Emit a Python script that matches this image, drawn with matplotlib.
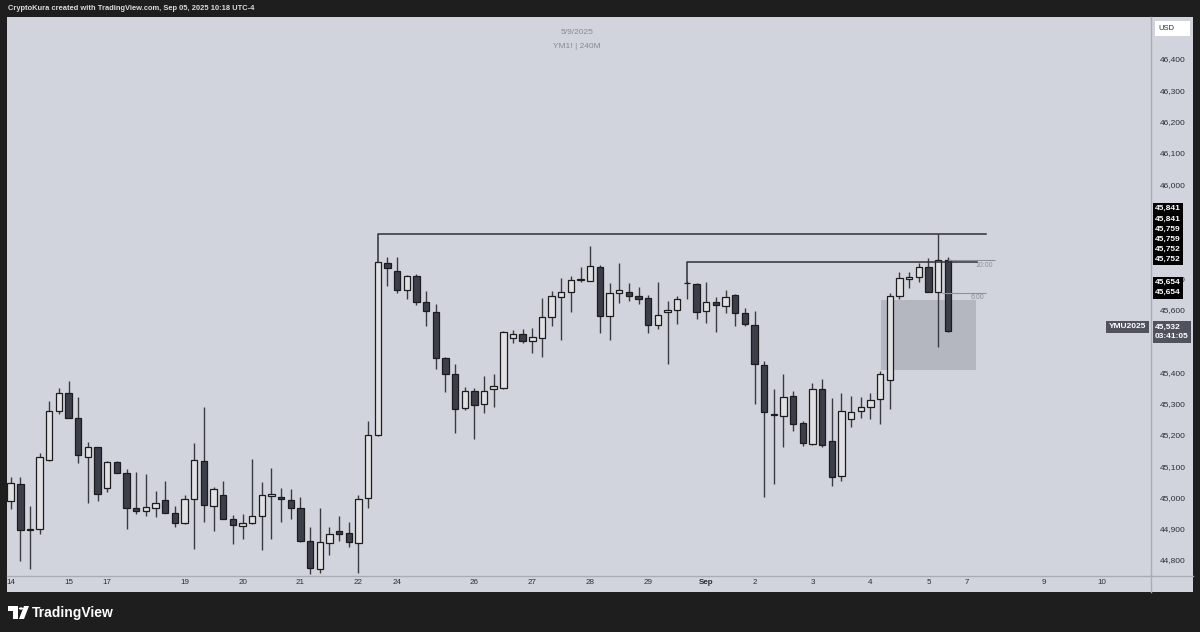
import numpy as np
import matplotlib.pyplot as plt
from matplotlib import transforms
from matplotlib.lines import Line2D
from matplotlib.patches import Rectangle, Polygon, Circle

# 240M candles, YM1!
opens = [44989, 45042, 44898, 44899, 45118, 45276, 45332, 45253, 45128, 45160,
         45029, 45113, 45077, 44966, 44956, 44966, 44992, 44949, 44917, 44996,
         45116, 44972, 45007, 44932, 44910, 44917, 44941, 45004, 45002, 44992,
         44967, 44861, 44771, 44853, 44893, 44887, 44853, 44997, 45199, 45750,
         45723, 45662, 45708, 45625, 45593, 45446, 45393, 45285, 45341, 45298,
         45347, 45348, 45509, 45522, 45498, 45510, 45577, 45639, 45656, 45695,
         45692, 45737, 45580, 45652, 45656, 45643, 45636, 45551, 45592, 45598,
         45686, 45681, 45594, 45623, 45611, 45647, 45588, 45550, 45422, 45265,
         45261, 45323, 45237, 45170, 45347, 45179, 45069, 45249, 45276, 45288,
         45315, 45376, 45643, 45697, 45705, 45735, 45655, 45759]
highs = [45064, 45064, 44972, 45143, 45308, 45348, 45373, 45320, 45177, 45162,
         45117, 45115, 45090, 45080, 45075, 45021, 45053, 44972, 45009, 45173,
         45290, 45032, 45053, 44943, 44947, 45122, 45049, 45093, 45029, 45027,
         45002, 44906, 44967, 44906, 44941, 44922, 45008, 45244, 45752, 45769,
         45767, 45710, 45712, 45660, 45617, 45448, 45425, 45352, 45348, 45388,
         45394, 45531, 45535, 45537, 45540, 45638, 45659, 45700, 45707, 45735,
         45804, 45742, 45686, 45748, 45684, 45671, 45646, 45689, 45627, 45644,
         45690, 45684, 45688, 45639, 45662, 45650, 45606, 45595, 45435, 45346,
         45395, 45340, 45245, 45365, 45377, 45318, 45332, 45323, 45322, 45332,
         45404, 45652, 45721, 45719, 45750, 45766, 45841, 45767]
lows = [44962, 44798, 44771, 44882, 45116, 45265, 45252, 45111, 44983, 44989,
        45018, 45077, 44898, 44947, 44941, 44938, 44949, 44906, 44915, 44834,
        44922, 44894, 44930, 44851, 44868, 44915, 44832, 44868, 44922, 44930,
        44859, 44755, 44757, 44816, 44861, 44842, 44757, 44965, 45197, 45675,
        45654, 45634, 45614, 45548, 45410, 45337, 45205, 45279, 45185, 45268,
        45290, 45345, 45494, 45492, 45462, 45449, 45547, 45503, 45591, 45689,
        45690, 45526, 45503, 45622, 45627, 45618, 45524, 45539, 45425, 45553,
        45632, 45571, 45558, 45529, 45590, 45547, 45547, 45297, 45002, 45042,
        45161, 45213, 45165, 45168, 45160, 45037, 45052, 45225, 45254, 45250,
        45235, 45281, 45634, 45668, 45689, 45655, 45481, 45527]
closes = [45045, 44896, 44896, 45130, 45276, 45332, 45254, 45134, 45160, 45011,
          45113, 45079, 44965, 44956, 44969, 44983, 44951, 44917, 44996, 45119,
          44975, 45026, 44932, 44912, 44917, 44941, 45007, 45011, 44994, 44965,
          44861, 44773, 44857, 44882, 44882, 44858, 44994, 45199, 45752, 45732,
          45662, 45708, 45625, 45595, 45446, 45393, 45282, 45339, 45295, 45341,
          45356, 45528, 45522, 45499, 45511, 45577, 45643, 45657, 45694, 45697,
          45739, 45580, 45654, 45662, 45642, 45632, 45551, 45582, 45598, 45634,
          45684, 45592, 45625, 45613, 45641, 45588, 45554, 45425, 45274, 45263,
          45320, 45234, 45173, 45347, 45167, 45066, 45276, 45274, 45290, 45312,
          45393, 45644, 45700, 45705, 45735, 45657, 45759, 45532]

day_pos = [0, 6, 10, 18, 24, 30, 36, 40, 48, 54, 60, 66, 72, 77, 83, 89, 95, 99, 107, 113]
day_labels = ['14', '15', '17', '19', '20', '21', '22', '24', '26', '27', '28', '29',
              'Sep', '2', '3', '4', '5', '7', '9', '10']
# levels hidden under the price tags in the original are left out
price_ticks = [v for v in range(44800, 46401, 100) if v not in (45500, 45800, 45900)]

top_level = 45841      # drawn ray from the 22nd breakout candle
mid_level = 45752      # ray from the Aug 29 doji
line_10 = 45759
line_6 = 45654
zone_lo, zone_hi = 45407, 45630
last_price = 45532

W, H = 1200, 632
BG = '#d1d4dc'
plt.rcParams['font.family'] = ['Liberation Sans', 'DejaVu Sans']

fig = plt.figure(figsize=(12, 6.32), dpi=100, facecolor='#1e1e1e')


def fx(px):
    return px / W


def fy(py):
    return 1 - py / H


bg = fig.add_axes([fx(7), fy(592), fx(1193) - fx(7), fy(17) - fy(592)])
bg.set_facecolor(BG)
bg.set_xticks([])
bg.set_yticks([])
for s in bg.spines.values():
    s.set_visible(False)

ax = fig.add_axes([fx(7), fy(575), fx(1150) - fx(7), fy(17) - fy(575)])
ax.set_facecolor('none')
for s in ax.spines.values():
    s.set_visible(False)

o, h, l, c = (np.array(v, dtype=float) for v in (opens, highs, lows, closes))
x = np.arange(len(o))
up = c >= o
body_lo = np.minimum(o, c)
body_h = np.maximum(np.abs(c - o), 2)

ax.vlines(x, l, h, color='#3a3b40', lw=1.0, zorder=2)
ax.bar(x[up], body_h[up], bottom=body_lo[up], width=0.66, color='#e1e1e4',
       edgecolor='#1c1c1f', lw=0.9, zorder=3)
ax.bar(x[~up], body_h[~up], bottom=body_lo[~up], width=0.66, color='#3c3e49',
       edgecolor='#1c1c1f', lw=0.9, zorder=3)

# gray zone
ax.add_patch(Rectangle((90.1, zone_lo), 9.8, zone_hi - zone_lo, fc='#8e919b',
                       alpha=0.42, ec='none', zorder=1))

# drawn rays
ax.plot([38, 38, 101], [closes[38], top_level, top_level], color='#2f3035', lw=1.1, zorder=4)
ax.plot([70, 70, 100], [opens[70], mid_level, mid_level], color='#2f3035', lw=1.1, zorder=4)
ax.hlines(line_10, 97, 101.9, color='#8e919b', lw=0.8, zorder=4)
ax.hlines(line_6, 96.4, 101.0, color='#8e919b', lw=0.8, zorder=4)
ax.text(101.7, line_10 - 6, '10:00', fontsize=5, color='#8e919b', ha='right', va='top')
ax.text(100.8, line_6 - 6, '6:00', fontsize=5, color='#8e919b', ha='right', va='top')

ax.set_xlim(-0.38, 117.94)
ax.set_ylim(44752.1, 46534.1)

ax.yaxis.tick_right()
ax.set_yticks(price_ticks, [f'{v:,}' for v in price_ticks])
ax.tick_params(axis='y', length=0, pad=7, labelsize=6, labelcolor='#2a2e39')
ax.set_xticks(day_pos, day_labels)
ax.tick_params(axis='x', length=0, pad=3, labelsize=5.8, labelcolor='#2a2e39')
ax.get_xticklabels()[day_labels.index('Sep')].set_fontweight('bold')

# axis separators
fig.add_artist(Line2D([fx(1150.5)] * 2, [fy(17), fy(592)], color='#a9acb5', lw=1))
fig.add_artist(Line2D([fx(7), fx(1193)], [fy(575.5)] * 2, color='#a9acb5', lw=1))

# price-axis labels
trans = transforms.blended_transform_factory(ax.transAxes, ax.transData)
lab = dict(xycoords=trans, textcoords='offset pixels', fontsize=6, color='white',
           fontweight='bold', va='center', ha='left', annotation_clip=False,
           linespacing=1.62, zorder=5)
ax.annotate('45,841\n45,841\n45,759\n45,759\n45,752\n45,752', xy=(1, top_level),
            xytext=(5, 0), bbox=dict(boxstyle='square,pad=0.3', fc='black', ec='none'), **lab)
ax.annotate('45,654\n45,654', xy=(1, line_6), xytext=(5, 5),
            bbox=dict(boxstyle='square,pad=0.3', fc='black', ec='none'), **lab)
ax.annotate(f'{last_price:,}\n03:41:05', xy=(1, last_price), xytext=(5, -1),
            bbox=dict(boxstyle='square,pad=0.3', fc='#50535e', ec='none'),
            **dict(lab, linespacing=1.5))
lab_r = dict(lab, ha='right')
ax.annotate('YMU2025', xy=(1, last_price), xytext=(-4, 4),
            bbox=dict(boxstyle='square,pad=0.3', fc='#50535e', ec='none'), **lab_r)

fig.add_artist(Rectangle((fx(1155), fy(36)), fx(1190) - fx(1155), fy(21) - fy(36),
                         transform=fig.transFigure, fc='white', ec='none'))
fig.text(fx(1158), fy(28.5), 'USD', fontsize=5.5, color='#2a2e39', va='center')

# header, watermark, footer
fig.text(fx(8), fy(8.5), 'CryptoKura created with TradingView.com, Sep 05, 2025 10:18 UTC-4',
         fontsize=5.4, color='#dcdcdc', va='center', fontweight='bold')
fig.text(fx(577), fy(32), '5/9/2025', fontsize=6, color='#878a94', ha='center', va='center')
fig.text(fx(577), fy(47), 'YM1! | 240M', fontsize=6, color='#878a94', ha='center', va='center')

fig.add_artist(Polygon([[fx(8), fy(606)], [fx(18), fy(606)], [fx(18), fy(619)], [fx(13), fy(619)],
                        [fx(13), fy(611)], [fx(8), fy(611)]], closed=True,
                       transform=fig.transFigure, fc='white', ec='none'))
fig.add_artist(Polygon([[fx(24), fy(606)], [fx(29), fy(606)], [fx(24), fy(619)], [fx(19), fy(619)]],
                       closed=True, transform=fig.transFigure, fc='white', ec='none'))
fig.add_artist(Circle((fx(21), fy(608.5)), 2.2 / W, transform=fig.transFigure, fc='white', ec='none'))
fig.text(fx(32), fy(612.5), 'TradingView', fontsize=10, color='white', fontweight='bold', va='center')

fig.savefig('out.png', dpi=100, facecolor=fig.get_facecolor())
